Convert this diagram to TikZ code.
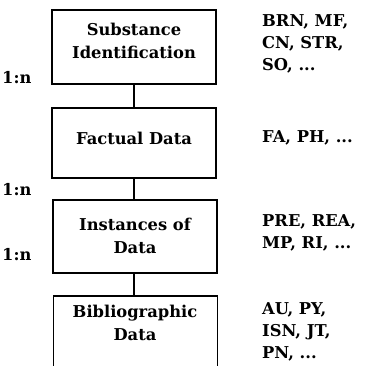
\documentclass[tikz,border=0pt]{standalone}
\usepackage{fontspec}
\setmainfont{DejaVu Serif}
\begin{document}
\begin{tikzpicture}[x=1pt,y=-1pt,
  box/.style={draw,line width=1.7pt,rectangle,minimum width=164pt,inner sep=0pt},
  lbl/.style={font=\bfseries\fontsize{16.3}{22.5}\selectfont,align=center,inner sep=0pt},
  side/.style={font=\bfseries\fontsize{16.3}{22}\selectfont,align=left,anchor=west,inner sep=0pt},
  rel/.style={font=\bfseries\fontsize{16.3}{20}\selectfont,anchor=west,inner sep=0pt},
  conn/.style={line width=1.2pt}]
\clip (0,0) rectangle (370,366);
\node[box,minimum height=74pt] (b1) at (134,47) {};
\node[box,minimum height=70pt] (b2) at (134,143) {};
\node[box,minimum height=73pt] (b3) at (135,236.5) {};
\node[box,minimum height=100pt] (b4) at (135.5,346) {};
\draw[conn] (b1.south) -- (b1.south |- b2.north);
\draw[conn] (b2.south) -- (b2.south |- b3.north);
\draw[conn] (b3.south -| b2.south) -- (b2.south |- b4.north);
\node[lbl] (t1) at (134,41) {Substance\\Identification};
\node[lbl] (t2) at (134,138) {Factual Data};
\node[lbl] (t3) at (135,236) {Instances of\\Data};
\node[lbl] (t4) at (135,323) {Bibliographic\\Data};
\node[side] (r1) at (262,44) {BRN, MF,\\CN, STR,\\SO, ...};
\node[side] (r2) at (262,138) {FA, PH, ...};
\node[side] (r3) at (262,233) {PRE, REA,\\MP, RI, ...};
\node[side] (r4) at (262,332) {AU, PY,\\ISN, JT,\\PN, ...};
\node[rel] (n1) at (2,78) {1:n};
\node[rel] (n2) at (2,190) {1:n};
\node[rel] (n3) at (2,255) {1:n};
\end{tikzpicture}
\end{document}
